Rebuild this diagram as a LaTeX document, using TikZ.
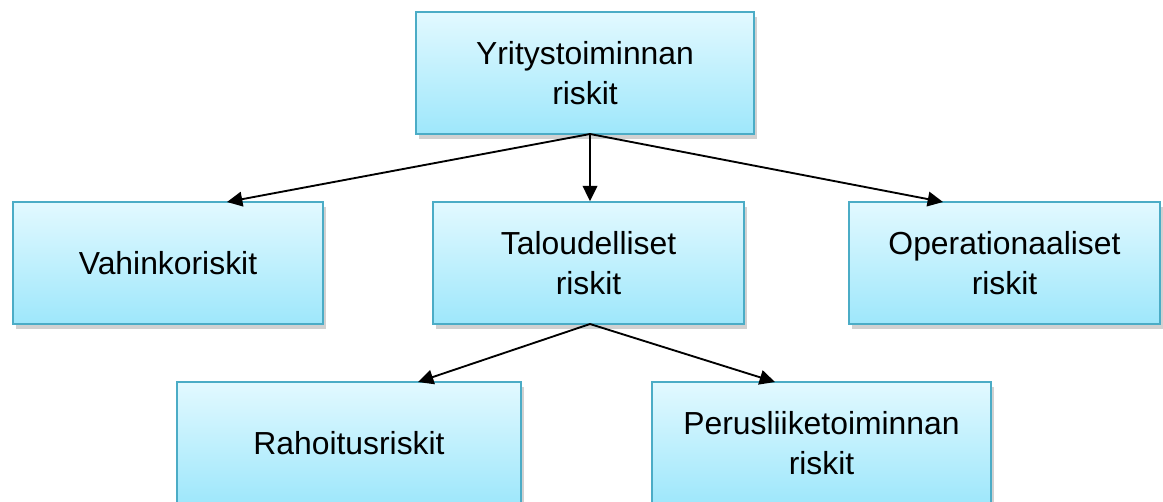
\documentclass[tikz,border=0pt]{standalone}
\usepackage{fontspec}
\setmainfont{Liberation Sans}
\usetikzlibrary{arrows.meta,shadows}
\definecolor{boxtop}{RGB}{226,249,255}
\definecolor{boxbot}{RGB}{158,231,251}
\definecolor{boxline}{RGB}{75,172,198}
\tikzset{
  riskbox/.style={rectangle, draw=boxline, line width=1.3pt,
    top color=boxtop, bottom color=boxbot,
    minimum height=91.5pt, inner sep=0pt, align=center,
    font=\fontsize{23.9}{30.5}\selectfont,
    drop shadow={shadow xshift=2pt, shadow yshift=-3.5pt, opacity=0.3, fill=black!60}},
  link/.style={line width=1.4pt, -{Triangle[length=11.5pt,width=11pt]}}
}
\begin{document}
\begin{tikzpicture}[x=0.75pt,y=-0.75pt]
\useasboundingbox (0,0) rectangle (1163,501);
\clip (0,0) rectangle (1163,501);
\node[riskbox, minimum width=253.5pt] (top) at (585,73) {Yritystoiminnan\\riskit};
\node[riskbox, minimum width=232.5pt] (vah) at (168,263) {Vahinkoriskit};
\node[riskbox, minimum width=233pt] (tal) at (588.5,263) {Taloudelliset\\riskit};
\node[riskbox, minimum width=233pt] (ope) at (1004.5,263) {Operationaaliset\\riskit};
\node[riskbox, minimum width=258pt] (rah) at (349,443) {Rahoitusriskit};
\node[riskbox, minimum width=254pt] (per) at (821.5,443) {Perusliiketoiminnan\\riskit};
\coordinate (ts) at (590,134);
\coordinate (bs) at (590,324);
\coordinate (vt) at (227,202);
\coordinate (ot) at (943,202);
\coordinate (rt) at (418,382);
\coordinate (pt) at (775,382);
\draw[link] (ts) -- (vt);
\draw[link] (ts) -- (tal.north -| ts);
\draw[link] (ts) -- (ot);
\draw[link] (bs) -- (rt);
\draw[link] (bs) -- (pt);
\end{tikzpicture}
\end{document}
